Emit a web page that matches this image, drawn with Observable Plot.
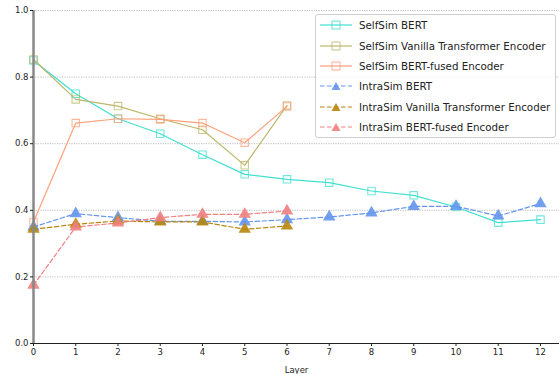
<!DOCTYPE html>
<html>
<head>
<meta charset="utf-8">
<script src="https://cdn.jsdelivr.net/npm/d3@7"></script>
<script src="https://cdn.jsdelivr.net/npm/@observablehq/plot@0.6"></script>
<style>
  html, body { margin: 0; padding: 0; background: #fff; }
  #wrap { position: relative; width: 560px; height: 374px; font-family: "DejaVu Sans", sans-serif; }
  #legend { position: absolute; left: 315px; top: 14px; width: 241px; height: 124px; box-sizing: border-box;
    border: 1px solid #d0d0d0; border-radius: 3px; background: rgba(255,255,255,0.85); padding: 0 0 0 4px; }
  .item { display: flex; align-items: center; height: 20.4px; font-size: 10.3px; color: #222; }
  .item svg { margin-right: 7px; }
</style>
</head>
<body>
<div id="wrap"><div id="chart"></div><div id="legend"></div></div>
<script>
const layers = [0,1,2,3,4,5,6,7,8,9,10,11,12];
const seriesNames = [
  "SelfSim BERT",
  "SelfSim Vanilla Transformer Encoder",
  "SelfSim BERT-fused Encoder",
  "IntraSim BERT",
  "IntraSim Vanilla Transformer Encoder",
  "IntraSim BERT-fused Encoder"
];
const seriesColors = ["#40E0D0", "#BDB76B", "#FFA07A", "#6495ED", "#B8860B", "#F08080"];
const selfSimBert    = [0.850, 0.750, 0.675, 0.630, 0.567, 0.508, 0.493, 0.483, 0.458, 0.445, 0.410, 0.363, 0.372];
const selfSimVanilla = [0.853, 0.733, 0.713, 0.675, 0.642, 0.535, 0.715];
const selfSimFused   = [0.365, 0.662, 0.675, 0.673, 0.662, 0.603, 0.712];
const intraSimBert    = [0.350, 0.390, 0.378, 0.367, 0.367, 0.365, 0.372, 0.380, 0.392, 0.412, 0.412, 0.383, 0.420];
const intraSimVanilla = [0.343, 0.358, 0.368, 0.365, 0.365, 0.343, 0.353];
const intraSimFused   = [0.175, 0.350, 0.362, 0.378, 0.388, 0.388, 0.398];
const yTicks = [0, 0.2, 0.4, 0.6, 0.8, 1.0];

const allValues = [selfSimBert, selfSimVanilla, selfSimFused, intraSimBert, intraSimVanilla, intraSimFused];
const rows = [];
allValues.forEach((vals, i) => vals.forEach((v, j) => rows.push({series: seriesNames[i], layer: layers[j], value: v, kind: i < 3 ? "self" : "intra"})));
const self = rows.filter(d => d.kind === "self");
const intra = rows.filter(d => d.kind === "intra");

const colorScale = {domain: seriesNames, range: seriesColors};

const chart = Plot.plot({
  width: 560,
  height: 374,
  marginLeft: 33,
  marginRight: 1,
  marginTop: 10,
  marginBottom: 31,
  style: {fontFamily: "DejaVu Sans, sans-serif", fontSize: "8.5px", color: "#222", background: "#fff"},
  x: {domain: [0, 12.45], ticks: layers, tickFormat: d => String(d), label: "Layer", labelAnchor: "center", labelArrow: "none", labelOffset: 29, tickSize: 3},
  y: {domain: [0, 1], ticks: yTicks, tickFormat: d3.format(".1f"), label: null, tickSize: 3},
  color: colorScale,
  marks: [
    Plot.gridY(yTicks, {stroke: "#999", strokeOpacity: 0.8, strokeDasharray: "1.2,1.2", strokeWidth: 0.8}),
    Plot.line(self, {x: "layer", y: "value", z: "series", stroke: "series", strokeWidth: 1.2}),
    Plot.dot(self, {x: "layer", y: "value", stroke: "series", symbol: "square", r: 4.2, fill: "none", strokeWidth: 1.1, strokeOpacity: 0.75}),
    Plot.line(intra, {x: "layer", y: "value", z: "series", stroke: "series", strokeWidth: 1.2, strokeDasharray: "4.5,2.5"}),
    Plot.dot(intra, {x: "layer", y: "value", fill: "series", symbol: "triangle", r: 4.6, stroke: "none", fillOpacity: 0.9}),
    Plot.ruleX([0], {stroke: "#888", strokeWidth: 2.5}),
    Plot.ruleY([0], {stroke: "#222", strokeWidth: 1}),
    Plot.axisX({ticks: layers, tickSize: 3, tickPadding: 2, label: "Layer", labelAnchor: "center", labelArrow: "none", labelOffset: 29}),
    Plot.axisY({ticks: yTicks, tickFormat: d3.format(".1f"), tickSize: 3, tickPadding: 2, label: null})
  ]
});
document.getElementById("chart").appendChild(chart);

const legend = document.getElementById("legend");
seriesNames.forEach((name, i) => {
  const c = seriesColors[i];
  const dashed = i >= 3;
  const marker = dashed
    ? `<path d="M16 6 L20.5 14 L11.5 14 Z" fill="${c}" opacity="0.9"/>`
    : `<rect x="12" y="6" width="8" height="8" fill="none" stroke="${c}" stroke-width="1.1" opacity="0.75"/>`;
  const div = document.createElement("div");
  div.className = "item";
  div.innerHTML = `<svg width="32" height="20"><line x1="0" x2="32" y1="10" y2="10" stroke="${c}" stroke-width="1.2" ${dashed ? 'stroke-dasharray="4.5,2.5"' : ''}/>${marker}</svg><span>${name}</span>`;
  legend.appendChild(div);
});
</script>
</body>
</html>
